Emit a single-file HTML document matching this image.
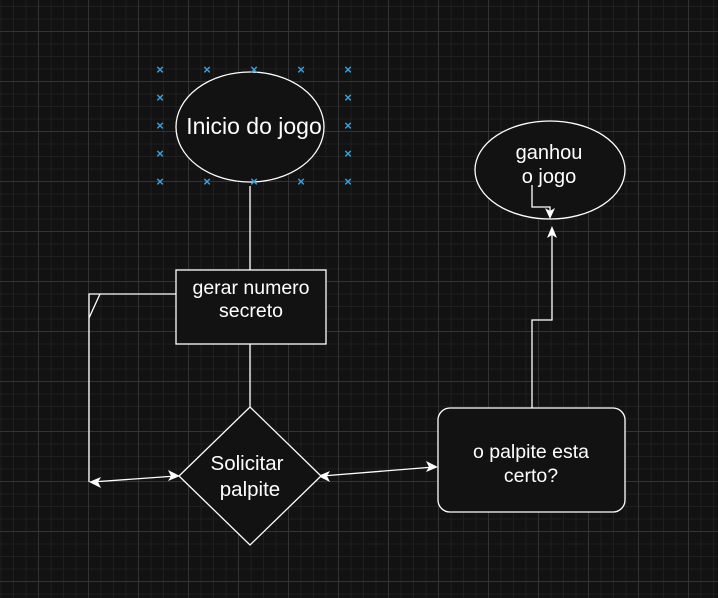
<!DOCTYPE html>
<html><head><meta charset="utf-8"><style>
html,body{margin:0;padding:0;width:718px;height:598px;overflow:hidden;background:#121212;}
.g{position:absolute;left:0;top:0;width:718px;height:598px;
background-image:
linear-gradient(to right,#333 1px,transparent 1px),
linear-gradient(to bottom,#333 1px,transparent 1px),
linear-gradient(to right,#1f1f1f 1px,transparent 1px),
linear-gradient(to bottom,#1f1f1f 1px,transparent 1px);
background-size:50px 50px,50px 50px,12.5px 12.5px,12.5px 12.5px;
background-position:38px 0,0 31px,0.5px 0,0 6px;}
svg{position:absolute;left:0;top:0;}
text{font-family:"Liberation Sans",sans-serif;fill:#fff;}
</style></head><body><div class="g"></div>
<svg width="718" height="598" viewBox="0 0 718 598">
<g stroke="#fff" stroke-width="1.3" fill="none">
<line x1="250" y1="186" x2="250" y2="270"/>
<line x1="250" y1="344" x2="250" y2="407"/>
<polyline points="176,294 89,294 89,482"/>
<line x1="89" y1="318" x2="100" y2="294"/>
<line x1="92" y1="482" x2="176" y2="476"/>
<line x1="322" y1="476" x2="434" y2="467"/>
<polyline points="532,413 532,320 552,320 552,232"/>
</g>
<g fill="#fff">
<polygon points="89,482 101,477 98,482 101,488"/>
<polygon points="180,476 168,481 171,476 168,470"/>
<polygon points="318,476 330,471 327,476 330,482"/>
<polygon points="438,467 426,472 429,467 426,461"/>
<polygon points="552,226 547,238 552,235 557,238"/>
</g>
<ellipse cx="250" cy="127" rx="74" ry="55" fill="#121212" stroke="#fff" stroke-width="1.3"/>
<text x="254" y="134" font-size="23" text-anchor="middle">Inicio do jogo</text>
<rect x="176" y="270" width="150" height="74" fill="#121212" stroke="#fff" stroke-width="1.3"/>
<text x="251" y="294" font-size="19.5" text-anchor="middle">gerar numero</text>
<text x="251" y="317" font-size="19.5" text-anchor="middle">secreto</text>
<polygon points="250,407 321,476 250,545 179,476" fill="#121212" stroke="#fff" stroke-width="1.3"/>
<text x="247" y="470" font-size="20.5" text-anchor="middle">Solicitar</text>
<text x="250" y="496" font-size="20.5" text-anchor="middle">palpite</text>
<rect x="438" y="408" width="187" height="104" rx="12" fill="#121212" stroke="#fff" stroke-width="1.3"/>
<text x="531" y="458" font-size="19.5" text-anchor="middle">o palpite esta</text>
<text x="531" y="482" font-size="19.5" text-anchor="middle">certo?</text>
<ellipse cx="550" cy="170" rx="75" ry="49" fill="#121212" stroke="#fff" stroke-width="1.3"/>
<text x="549" y="159" font-size="20" text-anchor="middle">ganhou</text>
<text x="549" y="183" font-size="20" text-anchor="middle">o jogo</text>
<polyline points="532,185 532,207 550,207 550,215" stroke="#fff" stroke-width="1.3" fill="none"/>
<polygon points="550,219 545,208 550,211 555,208" fill="#fff"/>
<g font-size="13" text-anchor="middle" font-weight="bold">
<text x="160" y="74" style="fill:#3aa0d8">×</text><text x="207" y="74" style="fill:#3aa0d8">×</text><text x="254" y="74" style="fill:#3aa0d8">×</text><text x="301" y="74" style="fill:#3aa0d8">×</text><text x="348" y="74" style="fill:#3aa0d8">×</text>
<text x="160" y="102" style="fill:#3aa0d8">×</text><text x="348" y="102" style="fill:#3aa0d8">×</text>
<text x="160" y="130" style="fill:#3aa0d8">×</text><text x="348" y="130" style="fill:#3aa0d8">×</text>
<text x="160" y="158" style="fill:#3aa0d8">×</text><text x="348" y="158" style="fill:#3aa0d8">×</text>
<text x="160" y="186" style="fill:#3aa0d8">×</text><text x="207" y="186" style="fill:#3aa0d8">×</text><text x="254" y="186" style="fill:#3aa0d8">×</text><text x="301" y="186" style="fill:#3aa0d8">×</text><text x="348" y="186" style="fill:#3aa0d8">×</text>
</g>
</svg></body></html>
